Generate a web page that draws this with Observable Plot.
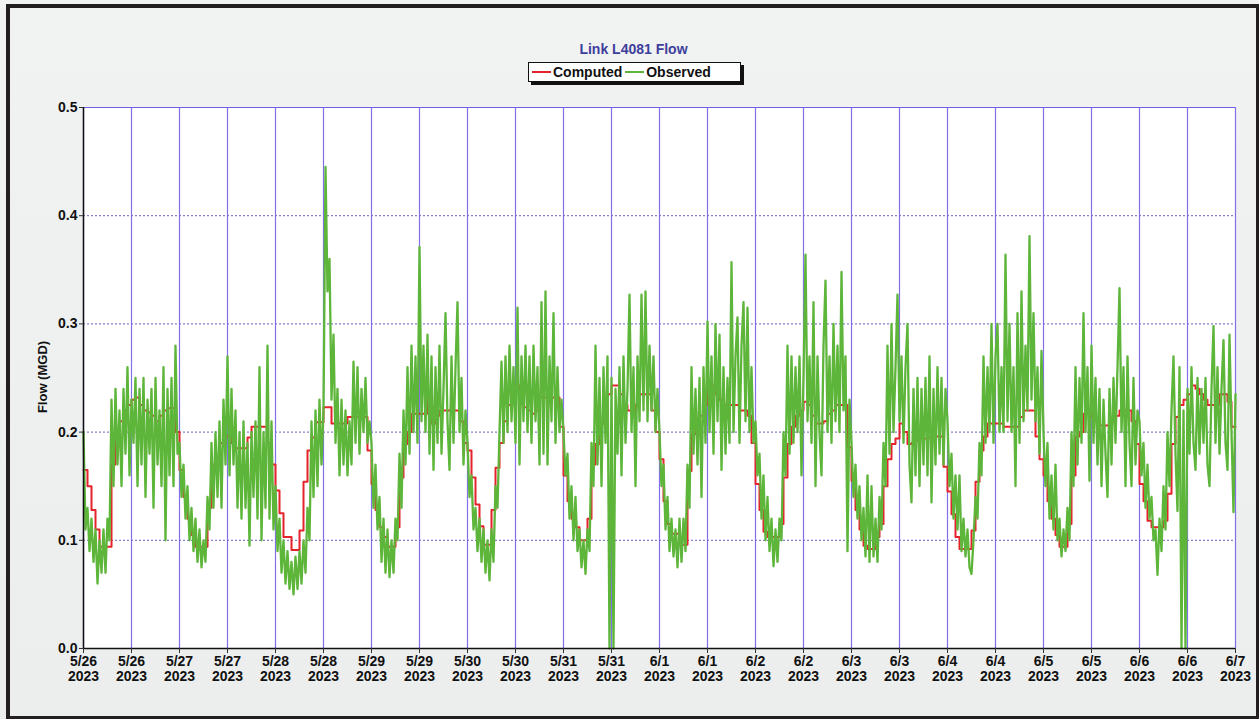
<!DOCTYPE html>
<html>
<head>
<meta charset="utf-8">
<script src="https://cdn.jsdelivr.net/npm/d3@7"></script>
<script src="https://cdn.jsdelivr.net/npm/@observablehq/plot@0.6"></script>
<style>
  html, body { margin: 0; padding: 0; background: #ffffff; }
  #page { position: relative; width: 1259px; height: 719px; overflow: hidden;
          background: linear-gradient(#f1f2f2, #eceeee); font-family: "Liberation Sans", Arial, sans-serif; }
  #frame { position: absolute; left: 6px; top: 4px; width: 1253px; height: 715px; box-sizing: border-box;
           border-left: 4px solid #231f20; border-top: 4px solid #231f20; border-right: 3px solid #231f20; border-bottom: 3px solid #231f20; }
  #title { position: absolute; left: 0; width: 1267px; top: 41px; text-align: center; font-weight: bold;
           font-size: 14px; color: #3e3f9c; }
  #legend { position: absolute; left: 528px; top: 62px; width: 211px; height: 18px; background: #fff;
            border: 1px solid #111; box-shadow: 3px 3px 0 #111; font-weight: bold; font-size: 14px; color: #111;
            display: flex; align-items: center; white-space: nowrap; }
  #legend .sw { display: inline-block; width: 19px; height: 2px; margin: 0 2px 0 3px; }
  #ylabel { position: absolute; left: 42px; top: 377px; transform: translate(-50%, -50%) rotate(-90deg);
            font-weight: bold; font-size: 13px; color: #111; white-space: nowrap; }
  #chart { position: absolute; left: 0; top: 90px; }
  #chart svg text { font-weight: bold; font-size: 14px; fill: #111; }
</style>
</head>
<body>
<div id="page">
  <div id="frame"></div>
  <div id="title">Link L4081 Flow</div>
  <div id="legend"><span class="sw" style="background:#e4232a"></span>Computed<span class="sw" style="background:#5db53a"></span>Observed</div>
  <div id="ylabel">Flow (MGD)</div>
  <div id="chart"></div>
</div>
<script>
// ---- Data ----
const seriesStart = Date.UTC(2023, 4, 26); // 5/26/2023 00:00
const observedStepMinutes = 30;
const computedStepMinutes = 60;

// Observed flow (MGD), every 30 minutes, one row per half-day
const observed = [
  0.20,0.11,0.13,0.09,0.12,0.08,0.11,0.06,0.10,0.07,0.11,0.07,
  0.12,0.10,0.23,0.15,0.24,0.17,0.22,0.15,0.24,0.18,0.26,0.16,
  0.23,0.19,0.25,0.15,0.24,0.17,0.25,0.14,0.23,0.18,0.24,0.13,
  0.25,0.17,0.22,0.15,0.26,0.10,0.24,0.16,0.25,0.15,0.28,0.18,
  0.19,0.14,0.17,0.12,0.15,0.10,0.13,0.09,0.12,0.08,0.11,0.075,
  0.10,0.08,0.14,0.11,0.19,0.13,0.20,0.14,0.21,0.13,0.23,0.17,
  0.27,0.16,0.24,0.17,0.22,0.13,0.20,0.12,0.21,0.13,0.19,0.095,
  0.20,0.14,0.21,0.12,0.26,0.10,0.20,0.13,0.28,0.12,0.21,0.11,
  0.15,0.09,0.12,0.07,0.10,0.06,0.09,0.055,0.08,0.05,0.085,0.055,
  0.09,0.06,0.10,0.07,0.13,0.10,0.21,0.14,0.22,0.15,0.23,0.17,
  0.22,0.445,0.33,0.36,0.23,0.29,0.19,0.24,0.16,0.23,0.17,0.22,
  0.16,0.21,0.17,0.265,0.19,0.26,0.18,0.24,0.20,0.25,0.19,0.21,
  0.19,0.13,0.17,0.11,0.14,0.08,0.12,0.07,0.11,0.066,0.10,0.07,
  0.12,0.10,0.18,0.13,0.22,0.17,0.26,0.18,0.28,0.20,0.27,0.19,
  0.371,0.21,0.28,0.20,0.29,0.18,0.27,0.165,0.26,0.19,0.28,0.18,
  0.24,0.31,0.21,0.165,0.27,0.19,0.26,0.32,0.20,0.25,0.17,0.22,
  0.19,0.14,0.16,0.11,0.13,0.09,0.12,0.08,0.11,0.07,0.10,0.063,
  0.11,0.08,0.15,0.13,0.20,0.265,0.19,0.27,0.20,0.28,0.21,0.26,
  0.19,0.315,0.17,0.27,0.21,0.28,0.20,0.27,0.19,0.28,0.21,0.26,
  0.17,0.32,0.18,0.33,0.17,0.27,0.21,0.31,0.19,0.26,0.20,0.23,
  0.20,0.16,0.18,0.12,0.15,0.10,0.14,0.09,0.11,0.075,0.10,0.069,
  0.11,0.09,0.19,0.15,0.28,0.17,0.25,0.15,0.26,0.19,0.27,0.0,
  0.25,0.0,0.24,0.18,0.26,0.16,0.27,0.19,0.24,0.327,0.20,0.26,
  0.15,0.27,0.21,0.327,0.22,0.33,0.21,0.28,0.22,0.27,0.20,0.24,
  0.20,0.15,0.17,0.11,0.14,0.09,0.12,0.085,0.11,0.075,0.12,0.08,
  0.12,0.09,0.17,0.13,0.26,0.18,0.24,0.17,0.25,0.14,0.26,0.19,
  0.302,0.20,0.27,0.18,0.30,0.21,0.29,0.165,0.26,0.18,0.25,0.19,
  0.357,0.20,0.27,0.306,0.19,0.28,0.32,0.21,0.315,0.20,0.26,0.19,
  0.21,0.16,0.18,0.12,0.16,0.10,0.14,0.09,0.12,0.076,0.11,0.08,
  0.12,0.10,0.20,0.16,0.28,0.18,0.27,0.19,0.26,0.20,0.27,0.16,
  0.25,0.364,0.21,0.27,0.19,0.32,0.15,0.27,0.20,0.16,0.28,0.34,
  0.20,0.27,0.19,0.30,0.21,0.28,0.20,0.348,0.22,0.27,0.09,0.23,
  0.19,0.14,0.17,0.12,0.15,0.10,0.13,0.085,0.16,0.08,0.15,0.085,
  0.12,0.08,0.14,0.11,0.19,0.15,0.28,0.18,0.30,0.20,0.26,0.327,
  0.21,0.27,0.19,0.26,0.30,0.17,0.135,0.24,0.16,0.25,0.15,0.24,
  0.17,0.25,0.16,0.27,0.135,0.24,0.17,0.26,0.18,0.25,0.17,0.24,
  0.21,0.15,0.18,0.12,0.16,0.11,0.16,0.09,0.12,0.085,0.11,0.075,
  0.069,0.10,0.14,0.12,0.19,0.16,0.27,0.19,0.26,0.20,0.30,0.19,
  0.27,0.30,0.20,0.26,0.20,0.364,0.21,0.30,0.20,0.26,0.15,0.31,
  0.19,0.33,0.21,0.28,0.22,0.381,0.23,0.31,0.21,0.26,0.18,0.275,
  0.20,0.15,0.19,0.12,0.16,0.11,0.17,0.10,0.12,0.085,0.11,0.09,
  0.13,0.10,0.20,0.15,0.26,0.17,0.25,0.19,0.31,0.20,0.26,0.155,
  0.28,0.19,0.25,0.17,0.24,0.15,0.23,0.18,0.14,0.24,0.17,0.25,
  0.19,0.26,0.333,0.20,0.26,0.15,0.27,0.19,0.15,0.25,0.17,0.22,
  0.21,0.16,0.19,0.13,0.17,0.12,0.14,0.10,0.11,0.068,0.12,0.09,
  0.15,0.11,0.20,0.15,0.22,0.27,0.18,0.127,0.26,0.0,0.22,0.0,
  0.24,0.18,0.26,0.19,0.165,0.25,0.18,0.24,0.19,0.25,0.17,0.15,
  0.24,0.298,0.19,0.26,0.18,0.24,0.285,0.19,0.165,0.29,0.20,0.126,
  0.235
];

// Computed flow (MGD), hourly steps, one row per day
const computed = [
  0.165,0.15,0.128,0.11,0.094,0.094,0.094,0.17,0.2,0.21,0.22,0.225,0.23,0.232,0.225,0.22,0.218,0.215,0.21,0.215,0.22,0.222,0.222,0.2,
  0.165,0.14,0.12,0.105,0.094,0.094,0.094,0.13,0.17,0.17,0.19,0.196,0.196,0.19,0.185,0.185,0.185,0.195,0.205,0.205,0.205,0.205,0.19,0.17,
  0.146,0.125,0.103,0.103,0.091,0.091,0.109,0.154,0.183,0.195,0.209,0.209,0.223,0.223,0.208,0.208,0.208,0.208,0.214,0.214,0.214,0.214,0.214,0.183,
  0.152,0.128,0.112,0.103,0.094,0.094,0.112,0.158,0.189,0.2,0.217,0.217,0.217,0.217,0.232,0.208,0.215,0.22,0.22,0.22,0.22,0.22,0.21,0.19,
  0.183,0.158,0.133,0.113,0.096,0.096,0.128,0.167,0.19,0.21,0.225,0.235,0.243,0.24,0.223,0.22,0.217,0.22,0.232,0.232,0.232,0.232,0.232,0.205,
  0.16,0.136,0.12,0.112,0.1,0.1,0.12,0.17,0.189,0.208,0.225,0.235,0.243,0.243,0.235,0.225,0.22,0.217,0.225,0.235,0.235,0.235,0.22,0.2,
  0.175,0.136,0.115,0.106,0.106,0.096,0.096,0.164,0.198,0.205,0.215,0.225,0.243,0.243,0.235,0.23,0.225,0.225,0.225,0.225,0.22,0.22,0.215,0.19,
  0.152,0.128,0.108,0.103,0.103,0.103,0.115,0.158,0.189,0.205,0.215,0.22,0.228,0.225,0.215,0.208,0.208,0.21,0.217,0.22,0.225,0.225,0.225,0.186,
  0.155,0.128,0.11,0.095,0.092,0.092,0.103,0.115,0.15,0.175,0.189,0.194,0.208,0.2,0.189,0.19,0.192,0.194,0.194,0.195,0.196,0.196,0.196,0.168,
  0.145,0.124,0.103,0.092,0.092,0.092,0.109,0.154,0.183,0.196,0.208,0.208,0.208,0.208,0.205,0.205,0.205,0.205,0.214,0.22,0.22,0.22,0.196,0.175,
  0.16,0.136,0.12,0.105,0.094,0.094,0.115,0.16,0.196,0.2,0.217,0.217,0.214,0.21,0.206,0.206,0.206,0.21,0.215,0.22,0.22,0.22,0.21,0.189,
  0.152,0.136,0.118,0.112,0.112,0.112,0.118,0.143,0.189,0.214,0.225,0.23,0.235,0.243,0.24,0.235,0.23,0.225,0.225,0.225,0.235,0.235,0.228,0.205,
  0.205
];

// Axis tick labels
const xTickDays = ["5/26","5/26","5/27","5/27","5/28","5/28","5/29","5/29","5/30","5/30","5/31","5/31",
                   "6/1","6/1","6/2","6/2","6/3","6/3","6/4","6/4","6/5","6/5","6/6","6/6","6/7"];
const xTickYear = "2023";
const yTicks = [0.0, 0.1, 0.2, 0.3, 0.4, 0.5];

// ---- Build tables ----
const MIN = 60 * 1000;
const obsData = observed.map((v, i) => ({t: new Date(seriesStart + i * observedStepMinutes * MIN), v}));
const compData = computed.map((v, i) => ({t: new Date(seriesStart + i * computedStepMinutes * MIN), v}));
const tickDates = xTickDays.map((_, i) => new Date(seriesStart + i * 12 * 60 * MIN));
const xDomain = [tickDates[0], tickDates[tickDates.length - 1]];

const chart = Plot.plot({
  width: 1259,
  height: 629,
  marginLeft: 83,
  marginRight: 24,
  marginTop: 17,
  marginBottom: 71,
  style: {background: "transparent", fontFamily: "'Liberation Sans', Arial, sans-serif", fontSize: "14px", color: "#111"},
  x: {type: "utc", domain: xDomain},
  y: {domain: [0, 0.5]},
  marks: [
    Plot.frame({fill: "white", stroke: null}),
    Plot.ruleY(yTicks.filter(d => d > 0 && d < 0.5), {stroke: "#6a5fc0", strokeWidth: 1, strokeDasharray: "2,2"}),
    Plot.ruleX(tickDates, {stroke: "#8270ea", strokeWidth: 1.2}),
    Plot.ruleY([0.5], {stroke: "#7060e0", strokeWidth: 1.2}),
    Plot.line(compData, {x: "t", y: "v", curve: "step-after", stroke: "#e4232a", strokeWidth: 2}),
    Plot.line(obsData, {x: "t", y: "v", stroke: "#5db53a", strokeWidth: 2.3}),
    Plot.ruleY([0], {stroke: "#111", strokeWidth: 1.5}),
    Plot.ruleX([xDomain[0]], {stroke: "#111", strokeWidth: 1.5}),
    Plot.axisX({ticks: tickDates, tickSize: 5, tickPadding: 2, label: null, stroke: "#333", lineHeight: 1.08,
                tickFormat: d => xTickDays[Math.round((d - seriesStart) / (12 * 60 * MIN))] + "\n" + xTickYear}),
    Plot.axisY({ticks: yTicks, tickSize: 4, tickPadding: 2, label: null, stroke: "#333", tickFormat: d => d.toFixed(1)})
  ]
});
document.getElementById("chart").appendChild(chart);
</script>
</body>
</html>
